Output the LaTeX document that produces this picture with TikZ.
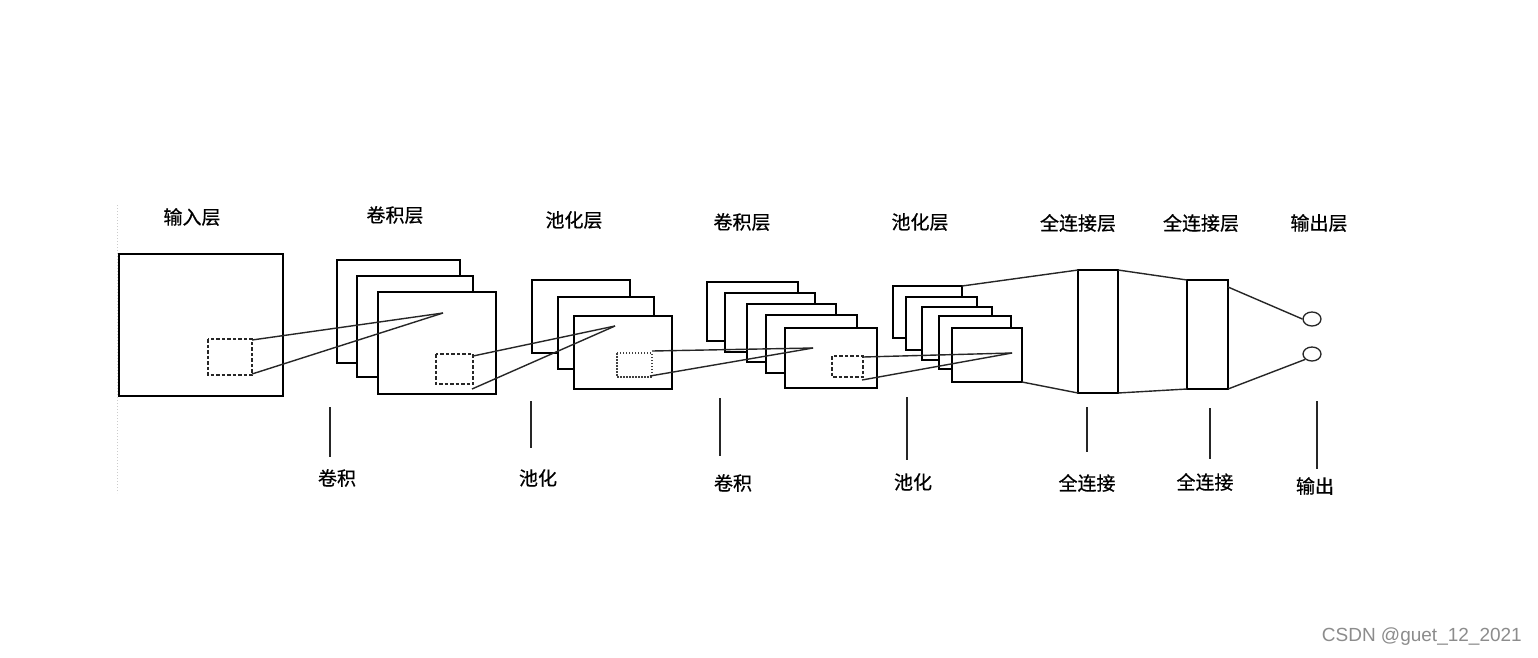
\documentclass[tikz,border=0pt]{standalone}
\usepackage{fontspec}
\usetikzlibrary{shapes.geometric}
\setmainfont{Noto Sans CJK SC}[FakeBold=0.6]
\newfontfamily\labfont{Noto Sans CJK SC}[FakeBold=0.6]
\newfontfamily\wmfont{Liberation Sans}
\begin{document}
\begin{tikzpicture}[x=1pt,y=-1pt,
  fmap/.style={draw=black,fill=white,line width=1.6pt},
  dbox/.style={draw=black!85,line width=1.6pt,dash pattern=on 3.5pt off 2pt},
  dotbox/.style={draw=black!75,line width=1.4pt,dash pattern=on 1.5pt off 1.5pt},
  link/.style={draw=black!85,line width=1.4pt},
  tick/.style={draw=black!85,line width=1.7pt},
  lab/.style={font=\labfont\fontsize{19}{19}\selectfont,inner sep=0pt},
  outc/.style={draw=black!85,line width=1.3pt,fill=white}]
\useasboundingbox[fill=white] (0,0) rectangle (1538,657);
% faint scan edge
\draw[black!20,line width=1pt,dash pattern=on 1pt off 2pt] (117,205) -- (117,493);
\newcommand{\fm}[5]{\path[fmap] (#2,#3) rectangle (#4,#5) coordinate (#1-se); \coordinate (#1-nw) at (#2,#3); \coordinate (#1-ne) at (#4,#3); \coordinate (#1-sw) at (#2,#5);}
% input layer
\fm{in}{119}{254}{283}{396}
\path[dbox] (208,339) rectangle (252,375);
\coordinate (ind-ne) at (252,340); \coordinate (ind-se) at (252,374);
% conv1
\fm{c1a}{337}{260}{460}{363}
\fm{c1b}{357}{276}{473}{377}
\fm{c1c}{378}{292}{496}{394}
\path[dbox] (436,354) rectangle (473,384);
\coordinate (p1) at (443,313);
\coordinate (c1d-ne) at (473,356); \coordinate (c1d-lo) at (472,389);
% pool1
\fm{p1a}{532}{280}{630}{353}
\fm{p1b}{558}{297}{654}{369}
\fm{p1c}{574}{316}{672}{389}
\path[dotbox] (617,353) rectangle (652,377);
\coordinate (p2) at (615,326);
\coordinate (p1d-ne) at (652,351); \coordinate (p1d-se) at (650,376);
% conv2
\fm{c2a}{707}{282}{798}{341}
\fm{c2b}{725}{293}{815}{352}
\fm{c2c}{747}{304}{836}{362}
\fm{c2d}{766}{315}{857}{373}
\fm{c2e}{785}{328}{877}{388}
\path[dbox] (832,356) rectangle (863,377);
\coordinate (p3) at (813,348);
\coordinate (c2d-ne) at (863,357); \coordinate (c2d-lo) at (862,380);
% pool2
\fm{q2a}{893}{286}{962}{338}
\fm{q2b}{906}{297}{977}{350}
\fm{q2c}{922}{307}{992}{360}
\fm{q2d}{939}{316}{1011}{369}
\fm{q2e}{952}{328}{1022}{382}
\coordinate (p4) at (1012,353);
% fully connected
\fm{fc1}{1078}{270}{1118}{393}
\fm{fc2}{1187}{280}{1228}{389}
% outputs
\node[outc,ellipse,minimum width=18pt,minimum height=14pt,inner sep=0pt] (o1) at (1312,319) {};
\node[outc,ellipse,minimum width=18pt,minimum height=14pt,inner sep=0pt] (o2) at (1312,354) {};
% connectors
\draw[link] (ind-ne) -- (p1);
\draw[link] (ind-se) -- (p1);
\draw[link] (c1d-ne) -- (p2);
\draw[link] (c1d-lo) -- (p2);
\draw[link] (p1d-ne) -- (p3);
\draw[link] (p1d-se) -- (p3);
\draw[link] (c2d-ne) -- (p4);
\draw[link] (c2d-lo) -- (p4);
\draw[link] (q2a-ne) -- (fc1-nw);
\draw[link] (q2e-se) -- (fc1-sw);
\draw[link] (fc1-ne) -- (fc2-nw);
\draw[link] (fc1-se) -- (fc2-sw);
\coordinate (fc2-r1) at (1228,287);
\draw[link] (fc2-r1) -- (o1.west);
\draw[link] (fc2-se) -- (o2.south west);
% top labels
\node[lab] (t1) at (192,217) {输入层};
\node[lab] (t2) at (395,215) {卷积层};
\node[lab] (t3) at (574,220) {池化层};
\node[lab] (t4) at (742,222) {卷积层};
\node[lab] (t5) at (920,222) {池化层};
\node[lab] (t6) at (1078,223) {全连接层};
\node[lab] (t7) at (1201,223) {全连接层};
\node[lab] (t8) at (1319,223) {输出层};
% bottom ticks and labels
\coordinate (k1a) at (330,407); \coordinate (k1b) at (330,457);
\coordinate (k2a) at (531,401); \coordinate (k2b) at (531,448);
\coordinate (k3a) at (720,398); \coordinate (k3b) at (720,456);
\coordinate (k4a) at (907,397); \coordinate (k4b) at (907,460);
\coordinate (k5a) at (1087,407); \coordinate (k5b) at (1087,452);
\coordinate (k6a) at (1210,408); \coordinate (k6b) at (1210,459);
\coordinate (k7a) at (1317,401); \coordinate (k7b) at (1317,469);
\draw[tick] (k1a) -- (k1b);
\draw[tick] (k2a) -- (k2b);
\draw[tick] (k3a) -- (k3b);
\draw[tick] (k4a) -- (k4b);
\draw[tick] (k5a) -- (k5b);
\draw[tick] (k6a) -- (k6b);
\draw[tick] (k7a) -- (k7b);
\node[lab] (b1) at (337,478) {卷积};
\node[lab] (b2) at (538,478) {池化};
\node[lab] (b3) at (733,483) {卷积};
\node[lab] (b4) at (913,482) {池化};
\node[lab] (b5) at (1087,483) {全连接};
\node[lab] (b6) at (1205,482) {全连接};
\node[lab] (b7) at (1315,486) {输出};
% watermark
\node[inner sep=0pt,anchor=east,text=black!45,font=\wmfont\fontsize{19}{19}\selectfont] (wm) at (1522,637) {CSDN @guet\_12\_2021};
\end{tikzpicture}
\end{document}
